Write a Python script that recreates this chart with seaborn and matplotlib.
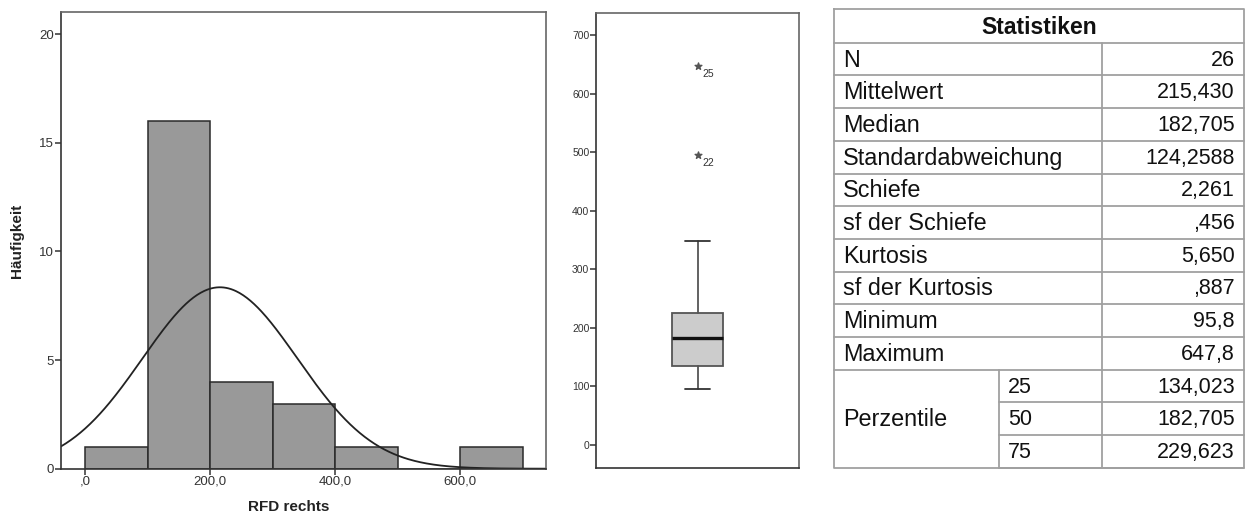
import numpy as np
import matplotlib
matplotlib.use("Agg")
import matplotlib.pyplot as plt
import seaborn as sns

# histogram (bin counts)
bin_edges = [0, 100, 200, 300, 400, 500, 600, 700]
bin_counts = [1, 16, 4, 3, 1, 0, 1]
hist_xticks = [0, 200, 400, 600]
hist_xticklabels = [",0", "200,0", "400,0", "600,0"]
hist_yticks = [0, 5, 10, 15, 20]

# normal curve parameters (from the statistics table)
n_cases = 26
mean_val = 215.430
sd_val = 124.2588

# boxplot (Tukey hinges as drawn)
box_whislo = 95.8
box_q1 = 134.0
box_med = 182.7
box_q3 = 225.0
box_whishi = 349.0
outlier_vals = [647.8, 495.0]
outlier_ids = ["25", "22"]
box_yticks = [0, 100, 200, 300, 400, 500, 600, 700]

# statistics table
stat_labels = ["N", "Mittelwert", "Median", "Standardabweichung", "Schiefe",
               "sf der Schiefe", "Kurtosis", "sf der Kurtosis", "Minimum", "Maximum"]
stat_values = ["26", "215,430", "182,705", "124,2588", "2,261",
               ",456", "5,650", ",887", "95,8", "647,8"]
pct_levels = ["25", "50", "75"]
pct_values = ["134,023", "182,705", "229,623"]

sns.set_style("white")
plt.rcParams['font.family'] = ['Liberation Sans', 'DejaVu Sans']

W, H = 1246, 519
fig = plt.figure(figsize=(W / 100, H / 100), dpi=100)


def px_axes(left, top, right, bottom):
    return fig.add_axes([left / W, 1 - bottom / H, (right - left) / W, (bottom - top) / H])


def frame(ax):
    for side in ["left", "bottom"]:
        ax.spines[side].set_color("#333333")
        ax.spines[side].set_linewidth(1.2)
    for side in ["top", "right"]:
        ax.spines[side].set_color("#666666")
        ax.spines[side].set_linewidth(1.2)
    ax.tick_params(direction="out", length=4, width=1.1, color="#333333",
                   labelcolor="#333333", pad=1, left=True, bottom=True)


# ---- histogram ----
ax1 = px_axes(61, 12.3, 545.7, 468.7)
centers = [(a + b) / 2 for a, b in zip(bin_edges[:-1], bin_edges[1:])]
sns.histplot(x=centers, weights=bin_counts, bins=bin_edges, ax=ax1,
             color="#999999", edgecolor="#2a2a2a", linewidth=1.1, alpha=1)
xs = np.linspace(-39, 737, 400)
bw = bin_edges[1] - bin_edges[0]
ys = n_cases * bw / (sd_val * np.sqrt(2 * np.pi)) * np.exp(-0.5 * ((xs - mean_val) / sd_val) ** 2)
ax1.plot(xs, ys, color="#222222", lw=1.3)
ax1.set_xlim(-39, 737)
ax1.set_ylim(0, 21)
ax1.set_xticks(hist_xticks)
ax1.set_xticklabels(hist_xticklabels, fontsize=9.5)
ax1.set_yticks(hist_yticks)
ax1.set_yticklabels([str(v) for v in hist_yticks], fontsize=9.5)
ax1.set_xlabel("RFD rechts", fontsize=11, fontweight="bold", color="#222222")
ax1.set_ylabel("Häufigkeit", fontsize=11, fontweight="bold", color="#222222")
ax1.xaxis.set_label_coords((289 - 61) / (545.7 - 61), -0.068)
ax1.yaxis.set_label_coords(-0.076, 0.5)
frame(ax1)

# ---- boxplot ----
ax2 = px_axes(596.3, 13.3, 799, 467.7)
stats = [dict(whislo=box_whislo, q1=box_q1, med=box_med, q3=box_q3,
              whishi=box_whishi, fliers=[])]
ax2.bxp(stats, positions=[0], widths=0.5, capwidths=0.25, patch_artist=True,
        showfliers=False,
        boxprops=dict(facecolor="#cccccc", edgecolor="#555555", linewidth=1.3),
        medianprops=dict(color="#111111", linewidth=2.4),
        whiskerprops=dict(color="#555555", linewidth=1.3),
        capprops=dict(color="#333333", linewidth=1.3))
ax2.scatter([0] * len(outlier_vals), outlier_vals, marker="*", s=26,
            color="#555555", zorder=3)
for v, lab in zip(outlier_vals, outlier_ids):
    ax2.annotate(lab, (0, v), xytext=(3.2, -6), textcoords="offset points",
                 ha="left", va="center", fontsize=7.5, color="#333333")
ax2.set_xlim(-1, 1)
ax2.set_ylim(-39, 737)
ax2.set_xticks([])
ax2.set_yticks(box_yticks)
ax2.set_yticklabels([str(v) for v in box_yticks], fontsize=7.5)
frame(ax2)
ax2.tick_params(axis="x", bottom=False)

# ---- statistics table ----
ax3 = fig.add_axes([0, 0, 1, 1])
ax3.set_xlim(0, W)
ax3.set_ylim(H, 0)
ax3.axis("off")
tl, tr, tt = 834, 1244, 9.3
header_b = 42.7
row_h = 32.7
col_val = 1101.7
col_sub = 999.3
line_kw = dict(color="#a0a0a0", lw=1.3)
lab_fs = 16.8
val_fs = 15.5
n_rows = len(stat_labels) + len(pct_levels)
tb = header_b + n_rows * row_h

ax3.plot([tl, tr, tr, tl, tl], [tt, tt, tb, tb, tt], **line_kw)
ax3.plot([tl, tr], [header_b, header_b], **line_kw)
ax3.text((tl + tr) / 2, (tt + header_b) / 2 + 1, "Statistiken", fontsize=16.5,
         fontweight="bold", ha="center", va="center", color="#111111")
for i in range(n_rows):
    y0 = header_b + i * row_h
    y1 = y0 + row_h
    if i < len(stat_labels):
        ax3.plot([tl, tr], [y1, y1], **line_kw)
        ax3.text(tl + 9, (y0 + y1) / 2 + 1, stat_labels[i], fontsize=lab_fs,
                 ha="left", va="center", color="#111111")
        ax3.text(tr - 9, (y0 + y1) / 2 + 1, stat_values[i], fontsize=val_fs,
                 ha="right", va="center", color="#111111")
    else:
        j = i - len(stat_labels)
        ax3.plot([col_sub, tr], [y1, y1], **line_kw)
        ax3.text(col_sub + 9, (y0 + y1) / 2 + 1, pct_levels[j], fontsize=val_fs,
                 ha="left", va="center", color="#111111")
        ax3.text(tr - 9, (y0 + y1) / 2 + 1, pct_values[j], fontsize=val_fs,
                 ha="right", va="center", color="#111111")
ax3.plot([col_val, col_val], [header_b, tb], **line_kw)
p_top = header_b + len(stat_labels) * row_h
ax3.plot([col_sub, col_sub], [p_top, tb], **line_kw)
ax3.text(tl + 9, (p_top + tb) / 2 + 1, "Perzentile", fontsize=lab_fs,
         ha="left", va="center", color="#111111")

fig.savefig("out.png", dpi=100)
